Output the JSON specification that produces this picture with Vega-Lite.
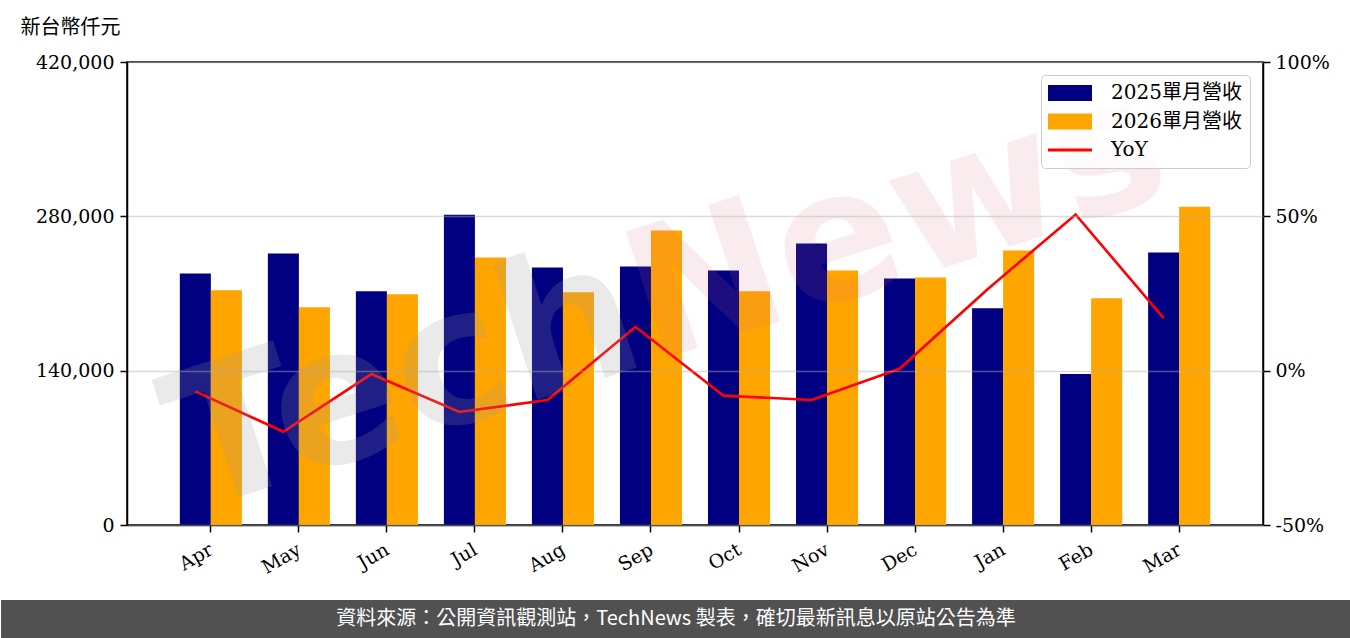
{
  "$schema": "https://vega.github.io/schema/vega-lite/v6.json",
  "padding": {"top": 16, "left": 0, "right": 0, "bottom": 0},
  "spacing": 0,
  "background": "white",
  "resolve": {"legend": {"color": "independent"}},
  "config": {
    "font": "DejaVu Serif",
    "axis": {
      "domainColor": "black", "domainWidth": 1.5,
      "tickColor": "black", "tickWidth": 1.5, "tickSize": 7,
      "labelFont": "DejaVu Serif", "labelFontSize": 19, "labelColor": "black",
      "gridColor": "#b0b0b0", "gridOpacity": 0.45, "gridWidth": 1.5
    },
    "legend": {"labelFont": "DejaVu Serif, Noto Sans CJK TC", "labelFontSize": 20, "labelColor": "black"}
  },
  "datasets": {
    "rev": [
      {"month": "Apr", "series": "2025單月營收", "revenue": 228240},
      {"month": "Apr", "series": "2026單月營收", "revenue": 212880},
      {"month": "May", "series": "2025單月營收", "revenue": 246300},
      {"month": "May", "series": "2026單月營收", "revenue": 197530},
      {"month": "Jun", "series": "2025單月營收", "revenue": 211980},
      {"month": "Jun", "series": "2026單月營收", "revenue": 209270},
      {"month": "Jul", "series": "2025單月營收", "revenue": 281530},
      {"month": "Jul", "series": "2026單月營收", "revenue": 242690},
      {"month": "Aug", "series": "2025單月營收", "revenue": 233660},
      {"month": "Aug", "series": "2026單月營收", "revenue": 211080},
      {"month": "Sep", "series": "2025單月營收", "revenue": 234560},
      {"month": "Sep", "series": "2026單月營收", "revenue": 267080},
      {"month": "Oct", "series": "2025單月營收", "revenue": 230950},
      {"month": "Oct", "series": "2026單月營收", "revenue": 211980},
      {"month": "Nov", "series": "2025單月營收", "revenue": 255330},
      {"month": "Nov", "series": "2026單月營收", "revenue": 230950},
      {"month": "Dec", "series": "2025單月營收", "revenue": 223720},
      {"month": "Dec", "series": "2026單月營收", "revenue": 224620},
      {"month": "Jan", "series": "2025單月營收", "revenue": 196630},
      {"month": "Jan", "series": "2026單月營收", "revenue": 249010},
      {"month": "Feb", "series": "2025單月營收", "revenue": 137020},
      {"month": "Feb", "series": "2026單月營收", "revenue": 205660},
      {"month": "Mar", "series": "2025單月營收", "revenue": 247210},
      {"month": "Mar", "series": "2026單月營收", "revenue": 288750}
    ],
    "yoy": [
      {"month": "Apr", "yoy": -0.067},
      {"month": "May", "yoy": -0.198},
      {"month": "Jun", "yoy": -0.011},
      {"month": "Jul", "yoy": -0.134},
      {"month": "Aug", "yoy": -0.095},
      {"month": "Sep", "yoy": 0.142},
      {"month": "Oct", "yoy": -0.081},
      {"month": "Nov", "yoy": -0.095},
      {"month": "Dec", "yoy": 0.006},
      {"month": "Jan", "yoy": 0.264},
      {"month": "Feb", "yoy": 0.506},
      {"month": "Mar", "yoy": 0.17}
    ]
  },
  "vconcat": [
    {
      "width": 1136,
      "height": 463,
      "view": {"stroke": "black", "strokeWidth": 1.5},
      "layer": [
        {
          "data": {"name": "rev"},
          "mark": {"type": "bar"},
          "encoding": {
            "x": {
              "field": "month", "type": "nominal",
              "scale": {"domain": ["Apr","May","Jun","Jul","Aug","Sep","Oct","Nov","Dec","Jan","Feb","Mar"], "paddingInner": 0.295, "paddingOuter": 0.6},
              "axis": {"title": null, "labelAngle": -30, "labelAlign": "right", "labelBaseline": "top", "labelPadding": 8, "labelOffset": -4, "minExtent": 74, "maxExtent": 74, "grid": false}
            },
            "xOffset": {"field": "series", "type": "nominal", "scale": {"paddingInner": 0, "paddingOuter": 0}},
            "y": {
              "field": "revenue", "type": "quantitative",
              "scale": {"domain": [0, 420000], "nice": false},
              "axis": {
                "values": [0, 140000, 280000, 420000], "labelExpr": "format(datum.value, ',.0f')", "grid": true,
                "minExtent": 126, "labelPadding": 6, "zindex": 1,
                "title": "新台幣仟元", "titleAngle": 0, "titleAlign": "left", "titleBaseline": "middle",
                "titleX": -107, "titleY": -35, "titleFont": "Noto Sans CJK TC", "titleFontSize": 20,
                "titleFontWeight": "normal", "titleColor": "black"
              }
            },
            "color": {
              "field": "series", "type": "nominal",
              "scale": {"domain": ["2025單月營收", "2026單月營收", "YoY"], "range": ["#000080", "#ffa500", "#ff0000"]},
              "legend": {
                "title": null, "orient": "top-right", "offset": 13,
                "fillColor": "rgba(255,255,255,0.8)", "strokeColor": "#cccccc", "cornerRadius": 4,
                "padding": 8, "symbolSize": 484, "symbolOffset": 11, "labelOffset": 31, "rowPadding": 8.5,
                "encode": {
                  "symbols": {
                    "update": {
                      "shape": {"signal": "datum.value === 'YoY' ? 'M-2,0H2' : 'M-2,-0.73H2V0.73H-2Z'"},
                      "fill": {"signal": "datum.value === 'YoY' ? 'transparent' : scale('color', datum.value)"},
                      "stroke": {"signal": "datum.value === 'YoY' ? '#ff0000' : 'transparent'"},
                      "strokeWidth": {"signal": "datum.value === 'YoY' ? 3 : 0"},
                      "opacity": {"value": 1}
                    }
                  }
                }
              }
            }
          }
        },
        {
          "data": {"name": "yoy"},
          "mark": {"type": "line", "strokeWidth": 2.6},
          "encoding": {
            "x": {"field": "month", "type": "nominal"},
            "xOffset": {"datum": "2025單月營收", "type": "nominal"},
            "y": {
              "field": "yoy", "type": "quantitative",
              "scale": {"domain": [-0.5, 1], "nice": false},
              "axis": {"orient": "right", "values": [-0.5, 0, 0.5, 1], "labelExpr": "(datum.value < 0 ? '-' : '') + format(abs(datum.value) * 100, '.0f') + '%'", "grid": false, "title": null, "labelPadding": 5}
            },
            "color": {"datum": "YoY"}
          }
        },
        {
          "data": {"values": [{"wm": "Tech"}]},
          "mark": {"type": "text", "font": "DejaVu Sans", "fontWeight": "bold", "fontSize": 190, "angle": -18, "align": "right", "baseline": "alphabetic", "color": "#999999", "opacity": 0.2, "clip": true},
          "encoding": {
            "text": {"field": "wm"},
            "x": {"datum": "Sep"},
            "y": {"datum": 0.35, "type": "quantitative", "scale": {"domain": [0, 1]}, "axis": null}
          }
        },
        {
          "data": {"values": [{"wm": "News"}]},
          "mark": {"type": "text", "font": "DejaVu Sans", "fontWeight": "bold", "fontSize": 182, "angle": -18, "align": "left", "baseline": "alphabetic", "color": "#e07080", "opacity": 0.13, "clip": true},
          "encoding": {
            "text": {"field": "wm"},
            "x": {"datum": "Sep"},
            "y": {"datum": 0.35, "type": "quantitative", "scale": {"domain": [0, 1]}, "axis": null}
          }
        }
      ],
      "resolve": {"scale": {"y": "independent"}}
    },
    {
      "width": 1224,
      "height": 38,
      "view": {"stroke": null},
      "layer": [
        {
          "data": {"values": [{"band": "footer"}]},
          "mark": {"type": "rect", "color": "#515151", "clip": false},
          "encoding": {
            "x": {"datum": -0.1029, "type": "quantitative", "scale": {"domain": [0, 1], "nice": false, "zero": false}, "axis": null},
            "x2": {"datum": 1},
            "y": {"datum": 0, "type": "quantitative", "scale": {"domain": [0, 1], "nice": false, "zero": false}, "axis": null},
            "y2": {"datum": 1}
          }
        },
        {
          "data": {"values": [{"note": "資料來源：公開資訊觀測站，TechNews 製表，確切最新訊息以原站公告為準"}]},
          "mark": {"type": "text", "color": "white", "font": "Noto Sans CJK TC", "fontSize": 20, "align": "center", "baseline": "middle"},
          "encoding": {
            "text": {"field": "note"},
            "x": {"datum": 0.4485, "type": "quantitative"},
            "y": {"datum": 0.5, "type": "quantitative"}
          }
        }
      ]
    }
  ]
}
